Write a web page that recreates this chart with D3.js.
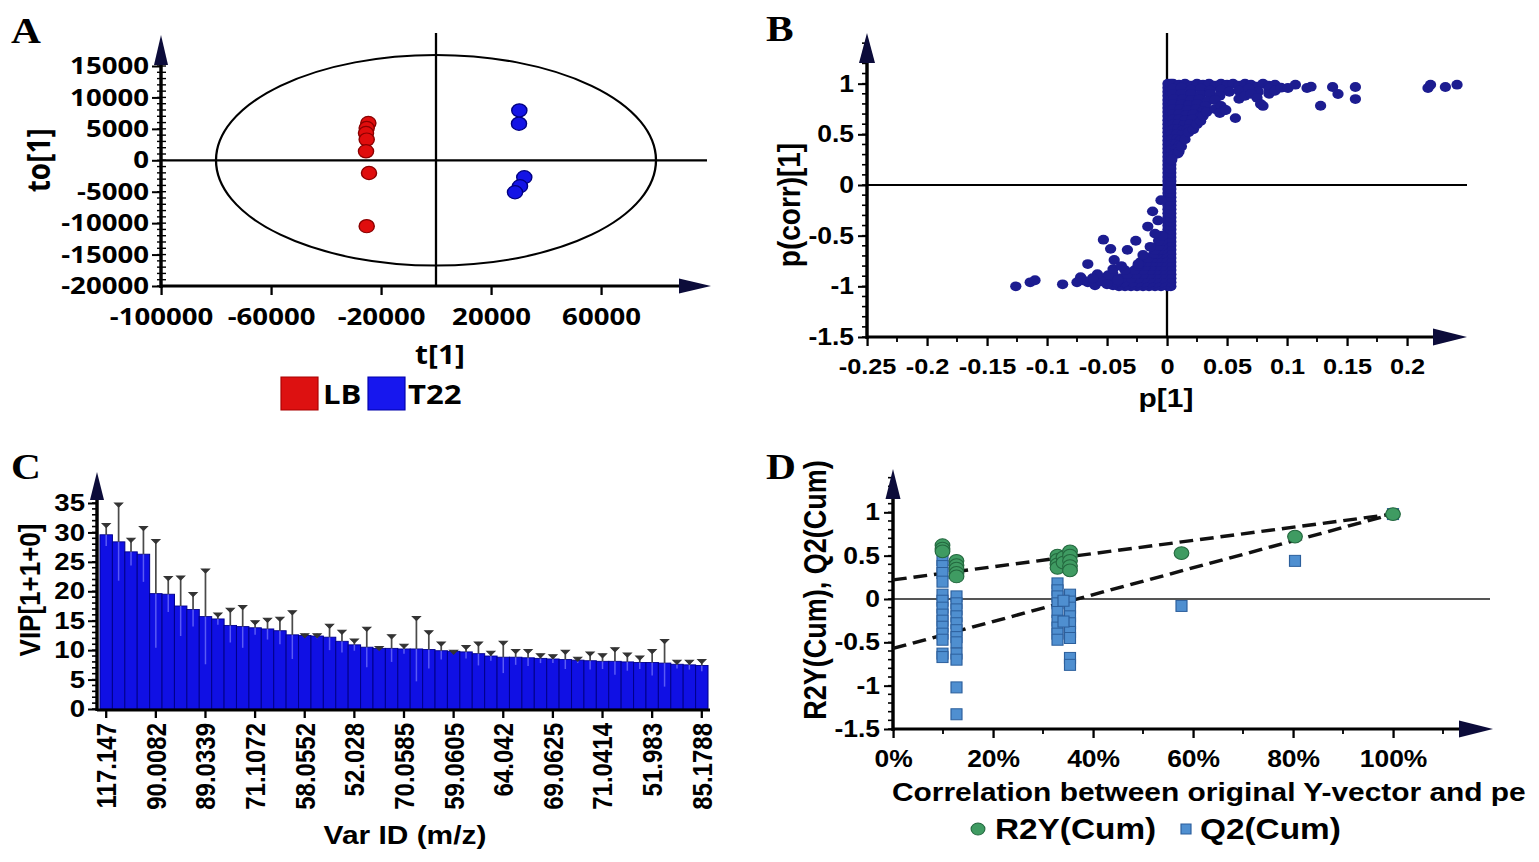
<!DOCTYPE html>
<html><head><meta charset="utf-8">
<script src="https://cdn.jsdelivr.net/npm/d3@7"></script>
<style>body{margin:0;background:#fff} svg{display:block}</style>
</head><body>
<svg id="chart" width="1539" height="862"></svg>
<script>
// ---------------- DATA ----------------
// Panel A: OPLS-DA score plot
const groupLB = [[-24600,5920],[-25200,5130],[-25450,4330],[-25200,3290],[-25450,1430],[-24360,-2020],[-25200,-10480]];
const groupT22 = [[30300,7940],[30180,5820],[32100,-2700],[30540,-4130],[28730,-5080]];
const ellipseRadii = [80000, 16750];
const aXTicks = [-100000,-60000,-20000,20000,60000];
const aXLabels = ["-100000","-60000","-20000","20000","60000"];
const aYTicks = [-20000,-15000,-10000,-5000,0,5000,10000,15000];
const aYLabels = ["-20000","-15000","-10000","-5000","0","5000","10000","15000"];
const legendA = ["LB","T22"];

// Panel B: S-plot
const splotColumnY = [-1.0,-0.96,-0.92,-0.88,-0.84,-0.8,-0.76,-0.72,-0.68,-0.64,-0.6,-0.56,-0.52,-0.48,-0.44,-0.4,-0.36,-0.32,-0.28,-0.24,-0.2,-0.16,-0.12,-0.08,-0.04,0,0.04,0.08,0.12,0.16,0.2,0.24,0.28,0.32,0.36,0.4,0.44,0.48,0.52,0.56,0.6,0.64,0.68,0.72,0.76,0.8,0.84,0.88,0.92,0.96,1.0];
const splotColumnX = [0.0008, 0.0032];
const splotUpper = [
 [0.005,1],[0.01,0.99],[0.015,1],[0.02,0.98],[0.025,1],[0.03,0.99],[0.035,1],[0.04,0.98],[0.045,1],[0.05,0.99],[0.055,1],[0.06,0.98],[0.065,1],[0.07,0.99],[0.075,0.97],[0.08,1],[0.085,0.98],[0.09,0.99],
 [0.005,0.95],[0.012,0.96],[0.02,0.94],[0.028,0.95],[0.036,0.93],[0.045,0.94],[0.052,0.92],[0.06,0.93],[0.068,0.95],[0.076,0.92],[0.085,0.95],
 [0.005,0.9],[0.012,0.9],[0.02,0.9],[0.028,0.89],[0.036,0.9],[0.044,0.88],
 [0.006,0.85],[0.013,0.85],[0.02,0.84],[0.027,0.85],[0.034,0.83],[0.04,0.84],
 [0.005,0.8],[0.012,0.8],[0.018,0.79],[0.025,0.8],[0.032,0.78],
 [0.005,0.75],[0.011,0.75],[0.017,0.74],[0.024,0.75],[0.03,0.73],
 [0.005,0.7],[0.01,0.7],[0.016,0.69],[0.022,0.7],[0.028,0.68],
 [0.005,0.65],[0.01,0.65],[0.015,0.64],[0.021,0.65],
 [0.005,0.6],[0.009,0.6],[0.014,0.59],[0.019,0.6],
 [0.005,0.55],[0.009,0.55],[0.013,0.54],[0.017,0.55],
 [0.004,0.5],[0.008,0.5],[0.012,0.49],
 [0.004,0.45],[0.008,0.45],[0.011,0.44],
 [0.004,0.4],[0.007,0.4],[0.01,0.39],
 [0.004,0.35],[0.007,0.35],[0.004,0.3],[0.006,0.3],[0.009,0.31],[0.004,0.25],
 [0.01,0.33],[0.012,0.38],[0.015,0.45],[0.018,0.52],[0.022,0.55],[0.025,0.6],[0.028,0.63],[0.03,0.68],[0.033,0.72],
 [0.04,0.75],[0.045,0.78],[0.048,0.74],[0.044,0.71],[0.057,0.66],[0.06,0.85],[0.065,0.88],[0.07,0.9],[0.075,0.86],
 [0.08,0.78],[0.078,0.8],[0.085,0.9],[0.09,0.93],[0.095,0.96],[0.049,0.74],
 [0.1008,0.957],[0.107,0.99],[0.1167,0.957],[0.12,0.97],[0.128,0.782],[0.138,0.967],[0.1425,0.898],[0.157,0.967],[0.157,0.848],
 [0.2175,0.957],[0.2196,0.99],[0.232,0.967],[0.2417,0.99]
];
const splotLower = [
 [-0.005,-1],[-0.01,-1],[-0.015,-1],[-0.02,-1],[-0.025,-1],[-0.03,-1],[-0.035,-1],[-0.04,-1],[-0.045,-0.99],
 [-0.004,-0.96],[-0.009,-0.96],[-0.014,-0.96],[-0.019,-0.96],[-0.024,-0.96],[-0.029,-0.96],[-0.036,-0.96],[-0.042,-0.96],[-0.05,-0.96],
 [-0.004,-0.92],[-0.009,-0.92],[-0.014,-0.92],[-0.019,-0.92],[-0.024,-0.92],[-0.03,-0.92],[-0.038,-0.92],[-0.046,-0.92],[-0.055,-0.92],
 [-0.004,-0.88],[-0.009,-0.88],[-0.014,-0.88],[-0.02,-0.88],[-0.026,-0.88],[-0.033,-0.88],[-0.045,-0.88],
 [-0.004,-0.84],[-0.009,-0.84],[-0.014,-0.84],[-0.02,-0.84],[-0.027,-0.84],[-0.035,-0.84],
 [-0.004,-0.8],[-0.009,-0.8],[-0.013,-0.8],[-0.018,-0.8],[-0.024,-0.8],
 [-0.004,-0.76],[-0.008,-0.76],[-0.012,-0.76],[-0.017,-0.76],[-0.022,-0.76],
 [-0.004,-0.72],[-0.008,-0.72],[-0.012,-0.72],[-0.016,-0.72],
 [-0.004,-0.68],[-0.008,-0.68],[-0.011,-0.68],
 [-0.004,-0.64],[-0.007,-0.64],[-0.01,-0.64],
 [-0.004,-0.6],[-0.007,-0.6],[-0.004,-0.55],[-0.007,-0.55],[-0.004,-0.5],
 [-0.126,-1.0],[-0.114,-0.96],[-0.11,-0.94],[-0.087,-0.98],[-0.072,-0.91],[-0.066,-0.96],[-0.06,-0.99],[-0.066,-0.78],
 [-0.053,-0.54],[-0.047,-0.63],[-0.044,-0.74],[-0.049,-0.89],[-0.041,-0.94],[-0.033,-0.64],[-0.026,-0.55],
 [-0.016,-0.41],[-0.012,-0.26],[-0.024,-0.78],[-0.02,-0.69],[-0.014,-0.61],[-0.01,-0.48],[-0.0075,-0.35],[-0.005,-0.15],
 [-0.055,-0.95],[-0.058,-0.88],[-0.062,-0.92],[-0.07,-0.94],[-0.075,-0.96],[-0.045,-0.83],[-0.038,-0.8],[-0.05,-0.98]
];
const bXTicks = [-0.25,-0.2,-0.15,-0.1,-0.05,0,0.05,0.1,0.15,0.2];
const bXLabels = ["-0.25","-0.2","-0.15","-0.1","-0.05","0","0.05","0.1","0.15","0.2"];
const bYTicks = [-1.5,-1,-0.5,0,0.5,1];
const bYLabels = ["-1.5","-1","-0.5","0","0.5","1"];

// Panel C: VIP bar chart
const vipValues = [29.6,28.4,26.7,26.3,19.6,19.5,17.5,16.9,15.7,15.3,14.2,14.0,13.8,13.6,13.3,12.6,12.5,12.4,12.2,11.5,10.9,10.5,10.3,10.3,10.2,10.2,10.1,9.9,9.8,9.7,9.4,9.0,8.8,8.8,8.7,8.6,8.5,8.4,8.3,8.2,8.1,8.1,8.0,7.9,7.9,7.8,7.6,7.5,7.4];
const vipErrors = [1.9,6.6,2.3,4.7,9.2,3.0,5.1,2.9,8.1,1.0,2.9,3.6,1.2,1.8,2.3,4.1,0.3,0.4,2.2,1.9,1.0,3.4,0.3,2.3,0.8,5.5,3.2,1.5,0.2,1.1,2.0,0.8,2.7,1.3,1.4,0.8,0.7,1.6,0.5,1.5,1.3,2.3,1.5,1.1,2.2,4.0,0.7,0.8,1.0];
const cXLabels = ["117.147","90.0082","89.0339","71.1072","58.0552","52.028","70.0585","59.0605","64.042","69.0625","71.0414","51.983","85.1788"];
const cYTicks = [0,5,10,15,20,25,30,35];

// Panel D: permutation test
const r2yX = [0.099,0.099,0.099,0.127,0.127,0.127,0.127,0.127,0.329,0.329,0.329,0.329,0.341,0.341,0.354,0.354,0.354,0.354,0.354,0.577,0.804,1.0];
const r2yY = [0.62,0.58,0.55,0.44,0.39,0.35,0.30,0.26,0.50,0.45,0.40,0.36,0.48,0.42,0.55,0.50,0.44,0.38,0.33,0.53,0.72,0.98];
const q2X = [0.099,0.099,0.099,0.099,0.099,0.099,0.099,0.099,0.099,0.099,0.099,0.099,0.099,0.099,
  0.127,0.127,0.127,0.127,0.127,0.127,0.127,0.127,0.127,0.127,0.127,0.127,
  0.329,0.329,0.329,0.329,0.329,0.329,0.329,0.329,0.329,
  0.354,0.354,0.354,0.354,0.354,0.354,0.354,0.354,0.354,0.341,0.341,0.577,0.804,1.0];
const q2Y = [0.45,0.38,0.30,0.20,0.05,-0.02,-0.10,-0.18,-0.25,-0.32,-0.40,-0.47,-0.63,-0.67,
  0.03,-0.05,-0.12,-0.20,-0.28,-0.36,-0.44,-0.50,-0.63,-0.70,-1.02,-1.33,
  0.18,0.10,0.03,-0.05,-0.15,-0.25,-0.33,-0.40,-0.47,
  0.05,-0.03,-0.10,-0.20,-0.28,-0.38,-0.45,-0.68,-0.76,-0.02,-0.26,-0.08,0.44,0.98];
const r2yLine = [[0,0.22],[1,0.98]];
const q2Line = [[0,-0.57],[1,0.98]];
const dXTicks = [0,0.2,0.4,0.6,0.8,1.0];
const dXLabels = ["0%","20%","40%","60%","80%","100%"];
const dYTicks = [-1.5,-1,-0.5,0,0.5,1];
const dYLabels = ["-1.5","-1","-0.5","0","0.5","1"];
const legendD = ["R2Y(Cum)","Q2(Cum)"];

// ---------------- DRAWING ----------------
const SX = 1.15;               // horizontal stretch of the figure
const px = v => v / SX;        // screen x -> inner x
const svg = d3.select('#chart');
const root = svg.append('g').attr('transform', `scale(${SX},1)`);
const NAVY = '#0c0c3a';
const SANS = "'Liberation Sans', Arial, sans-serif";
const OPEN = "'Open Sans', 'Liberation Sans', sans-serif";
const SERIF = "'Liberation Serif', 'Times New Roman', serif";

function line(g, x1, y1, x2, y2, w, color) {
  return g.append('line').attr('x1', x1).attr('y1', y1).attr('x2', x2).attr('y2', y2)
    .attr('stroke', color || '#000').attr('stroke-width', w || 2.5);
}
function arrowUp(g, x, tip, w, h) {
  g.append('path').attr('d', `M${x},${tip}L${x - w / 2},${tip + h}L${x + w / 2},${tip + h}Z`).attr('fill', NAVY);
}
function arrowRight(g, tip, y, w, h) {
  g.append('path').attr('d', `M${tip},${y}L${tip - w},${y - h / 2}L${tip - w},${y + h / 2}Z`).attr('fill', NAVY);
}
function text(g, x, y, s, size, font, anchor, rot) {
  const t = g.append('text').text(s).attr('font-family', font).attr('font-size', size)
    .attr('font-weight', 'bold').attr('fill', '#000').attr('text-anchor', anchor || 'start');
  if (rot) t.attr('transform', `translate(${x},${y}) rotate(${rot})`);
  else t.attr('x', x).attr('y', y);
  return t;
}
function styleAxis(sel, font, size) {
  sel.select('.domain').remove();
  sel.selectAll('.tick line').attr('stroke', '#000').attr('stroke-width', 2);
  sel.selectAll('.tick text').attr('font-family', font).attr('font-size', size)
    .attr('font-weight', 'bold').attr('fill', '#000');
}
function minorY(g, scale, x, vals, len) {
  g.append('g').selectAll('line').data(vals).join('line')
    .attr('x1', x - len).attr('x2', x).attr('y1', d => scale(d)).attr('y2', d => scale(d))
    .attr('stroke', '#000').attr('stroke-width', 1.6);
}
function minorX(g, scale, y, vals, len) {
  g.append('g').selectAll('line').data(vals).join('line')
    .attr('x1', d => scale(d)).attr('x2', d => scale(d)).attr('y1', y).attr('y2', y + len)
    .attr('stroke', '#000').attr('stroke-width', 1.6);
}

// ===== Panel A =====
{
  const g = root.append('g');
  const x = d3.scaleLinear().domain([-100000, 100000]).range([px(161), px(711)]);
  const y = d3.scaleLinear().domain([-20000, 15000]).range([286, 66]);
  text(g, px(11), 43, 'A', 36, SERIF);
  g.append('ellipse').attr('cx', x(0)).attr('cy', y(0))
    .attr('rx', x(ellipseRadii[0]) - x(0)).attr('ry', y(0) - y(ellipseRadii[1]))
    .attr('fill', 'none').attr('stroke', '#000').attr('stroke-width', 2);
  line(g, x(-100000), y(0), x(100000) - px(4), y(0), 2.2);
  line(g, x(0), 33, x(0), y(-20000), 2);
  const minor = d3.range(-20000, 15001, 1000);
  g.append('g').selectAll('line').data(minor).join('line')
    .attr('x1', x(-100000) - px(4)).attr('x2', x(-100000) + px(5)).attr('y1', d => y(d)).attr('y2', d => y(d))
    .attr('stroke', '#000').attr('stroke-width', 1.4);
  const ay = g.append('g').attr('transform', `translate(${x(-100000)},0)`)
    .call(d3.axisLeft(y).tickValues(aYTicks).tickFormat((d, i) => aYLabels[i]).tickSize(px(9)).tickPadding(px(3)));
  styleAxis(ay, OPEN, 24);
  const ax = g.append('g').attr('transform', `translate(0,${y(-20000)})`)
    .call(d3.axisBottom(x).tickValues(aXTicks).tickFormat((d, i) => aXLabels[i]).tickSize(9).tickPadding(13));
  styleAxis(ax, OPEN, 24);
  line(g, x(-100000), y(-20000), x(100000) - px(20), y(-20000), 3);
  arrowRight(g, x(100000), y(-20000), px(32), 15);
  line(g, x(-100000), y(-20000) + 2, x(-100000), 55, 3);
  arrowUp(g, x(-100000), 35, px(14), 30);
  g.append('g').selectAll('circle').data(groupLB).join('circle')
    .attr('cx', d => x(d[0])).attr('cy', d => y(d[1])).attr('r', 6.6)
    .attr('fill', '#e00d0d').attr('stroke', '#8a0000').attr('stroke-width', 1.2);
  g.append('g').selectAll('circle').data(groupT22).join('circle')
    .attr('cx', d => x(d[0])).attr('cy', d => y(d[1])).attr('r', 6.6)
    .attr('fill', '#1414e6').attr('stroke', '#000080').attr('stroke-width', 1.2);
  text(g, px(50), y(0), 'to[1]', 28, OPEN, 'middle', -90);
  text(g, px(440), 364, 't[1]', 26, OPEN, 'middle');
  const lg = g.append('g');
  lg.append('rect').attr('x', px(281)).attr('y', 377).attr('width', px(37)).attr('height', 33).attr('fill', '#dd1111').attr('stroke', '#aa0000');
  text(lg, px(323), 404, legendA[0], 27, OPEN);
  lg.append('rect').attr('x', px(368)).attr('y', 377).attr('width', px(37)).attr('height', 33).attr('fill', '#1717ee').attr('stroke', '#0000aa');
  text(lg, px(408), 404, legendA[1], 27, OPEN);
}

// ===== Panel B =====
{
  const g = root.append('g');
  const x = d3.scaleLinear().domain([-0.25, 0.25]).range([px(867), px(1467)]);
  const y = d3.scaleLinear().domain([-1.5, 1.5]).range([337, 33]);
  text(g, px(766), 41, 'B', 36, SERIF);
  line(g, x(-0.25), y(0), x(0.25), y(0), 2.2);
  line(g, x(0), 33, x(0), y(-1.5), 2);
  minorY(g, y, x(-0.25), d3.range(-1.5, 1.45, 0.1), px(5));
  minorX(g, x, y(-1.5), d3.range(-0.225, 0.24, 0.05), 5);
  const ay = g.append('g').attr('transform', `translate(${x(-0.25)},0)`)
    .call(d3.axisLeft(y).tickValues(bYTicks).tickFormat((d, i) => bYLabels[i]).tickSize(px(9)).tickPadding(px(4)));
  styleAxis(ay, SANS, 23);
  const ax = g.append('g').attr('transform', `translate(0,${y(-1.5)})`)
    .call(d3.axisBottom(x).tickValues(bXTicks).tickFormat((d, i) => bXLabels[i]).tickSize(9).tickPadding(12));
  styleAxis(ax, SANS, 22);
  line(g, x(-0.25), y(-1.5), x(0.25) - px(20), y(-1.5), 3);
  arrowRight(g, x(0.25), y(-1.5), px(34), 17);
  line(g, x(-0.25), y(-1.5) + 2, x(-0.25), 55, 3);
  arrowUp(g, x(-0.25), 33, px(16), 30);
  const pts = g.append('g').attr('fill', '#1c1c90');
  splotColumnX.forEach(cx => {
    pts.append('g').selectAll('circle').data(splotColumnY).join('circle')
      .attr('cx', x(cx)).attr('cy', d => y(d)).attr('r', 4.9);
  });
  pts.append('g').selectAll('circle').data(splotUpper.concat(splotLower)).join('circle')
    .attr('cx', d => x(d[0])).attr('cy', d => y(d[1])).attr('r', 4.9);
  text(g, px(800), 205, 'p(corr)[1]', 28, SANS, 'middle', -90);
  text(g, px(1166), 407, 'p[1]', 26, SANS, 'middle');
}

// ===== Panel C =====
{
  const g = root.append('g');
  const x = d3.scaleBand().domain(d3.range(vipValues.length)).range([px(100), px(708)]).padding(0);
  const y = d3.scaleLinear().domain([0, 35]).range([709, 503]);
  text(g, px(11), 479, 'C', 36, SERIF);
  g.append('g').selectAll('rect').data(vipValues).join('rect')
    .attr('x', (d, i) => x(i)).attr('width', x.bandwidth())
    .attr('y', d => y(d)).attr('height', d => y(0) - y(d))
    .attr('fill', '#1010e4').attr('stroke', '#00008c').attr('stroke-width', 0.9);
  const eb = g.append('g');
  vipValues.forEach((v, i) => {
    const cx = x(i) + x.bandwidth() / 2;
    line(eb, cx, y(v), cx, y(v - vipErrors[i]), 1.3, '#5a5af5');
    line(eb, cx, y(v), cx, y(v + vipErrors[i]), 1.5, '#4a4a4a');
    eb.append('path').attr('d', `M${cx - px(4)},${y(v + vipErrors[i])}L${cx + px(4)},${y(v + vipErrors[i])}L${cx},${y(v + vipErrors[i]) + 4}Z`)
      .attr('fill', '#333').attr('stroke', '#333').attr('stroke-width', 1);
  });
  minorY(g, y, px(97), d3.range(0, 35.5, 1), px(5));
  const ay = g.append('g').attr('transform', `translate(${px(97)},0)`)
    .call(d3.axisLeft(y).tickValues(cYTicks).tickSize(px(9)).tickPadding(px(3)));
  styleAxis(ay, SANS, 24);
  const tickIdx = d3.range(0, vipValues.length, 4);
  const ax = g.append('g').attr('transform', `translate(0,710)`)
    .call(d3.axisBottom(x).tickValues(tickIdx).tickFormat((d, i) => cXLabels[i]).tickSize(8).tickPadding(5));
  styleAxis(ax, SANS, 24);
  ax.selectAll('.tick text').attr('text-anchor', 'end').attr('dy', '0.36em')
    .attr('transform', 'rotate(-90)').attr('x', -13).attr('y', 0);
  line(g, px(97), 710, px(710), 710, 3);
  line(g, px(97), 711, px(97), 495, 3);
  arrowUp(g, px(97), 472, px(14), 28);
  text(g, px(40), 590, 'VIP[1+1+0]', 26, SANS, 'middle', -90);
  text(g, px(405), 844, 'Var ID (m/z)', 26, SANS, 'middle');
}

// ===== Panel D =====
{
  const g = root.append('g');
  const x = d3.scaleLinear().domain([0, 1.2]).range([px(893), px(1493)]);
  const y = d3.scaleLinear().domain([-1.5, 1.5]).range([729, 469]);
  text(g, px(766), 479, 'D', 36, SERIF);
  line(g, x(0), y(0), x(1.2) - px(3), y(0), 2.2, '#555');
  minorY(g, y, x(0), d3.range(-1.5, 1.45, 0.1), px(5));
  minorX(g, x, y(-1.5), d3.range(0.1, 1.15, 0.2), 5);
  const ay = g.append('g').attr('transform', `translate(${x(0)},0)`)
    .call(d3.axisLeft(y).tickValues(dYTicks).tickFormat((d, i) => dYLabels[i]).tickSize(px(9)).tickPadding(px(4)));
  styleAxis(ay, SANS, 23);
  const ax = g.append('g').attr('transform', `translate(0,${y(-1.5)})`)
    .call(d3.axisBottom(x).tickValues(dXTicks).tickFormat((d, i) => dXLabels[i]).tickSize(9).tickPadding(13));
  styleAxis(ax, SANS, 23);
  line(g, x(0), y(-1.5), x(1.2) - px(20), y(-1.5), 3);
  arrowRight(g, x(1.2), y(-1.5), px(34), 17);
  line(g, x(0), y(-1.5) + 2, x(0), 492, 3);
  arrowUp(g, x(0), 469, px(15), 30);
  const lineGen = d3.line().x(d => x(d[0])).y(d => y(d[1]));
  [r2yLine, q2Line].forEach(l => g.append('path').attr('d', lineGen(l)).attr('fill', 'none')
    .attr('stroke', '#111').attr('stroke-width', 3.4).attr('stroke-dasharray', '12,6'));
  g.append('g').selectAll('rect').data(q2X).join('rect')
    .attr('x', (d) => x(d) - px(5.5)).attr('y', (d, i) => y(q2Y[i]) - 5.5).attr('width', px(11)).attr('height', 11)
    .attr('fill', '#4f8fd0').attr('stroke', '#2c5f9c').attr('stroke-width', 1);
  g.append('g').selectAll('circle').data(r2yX).join('circle')
    .attr('cx', d => x(d)).attr('cy', (d, i) => y(r2yY[i])).attr('r', 6.4)
    .attr('fill', '#3f9b62').attr('stroke', '#24683f').attr('stroke-width', 1);
  text(g, px(826), 590, 'R2Y(Cum),  Q2(Cum)', 27, SANS, 'middle', -90);
  text(g, px(892), 801, 'Correlation between original Y-vector and pe', 26, SANS, 'start');
  g.append('circle').attr('cx', px(978)).attr('cy', 829).attr('r', 6).attr('fill', '#3f9b62').attr('stroke', '#24683f');
  text(g, px(995), 839, legendD[0], 29, SANS);
  g.append('rect').attr('x', px(1181)).attr('y', 824).attr('width', px(10)).attr('height', 10).attr('fill', '#4f8fd0').attr('stroke', '#2c5f9c');
  text(g, px(1200), 839, legendD[1], 29, SANS);
}
</script>
</body></html>
